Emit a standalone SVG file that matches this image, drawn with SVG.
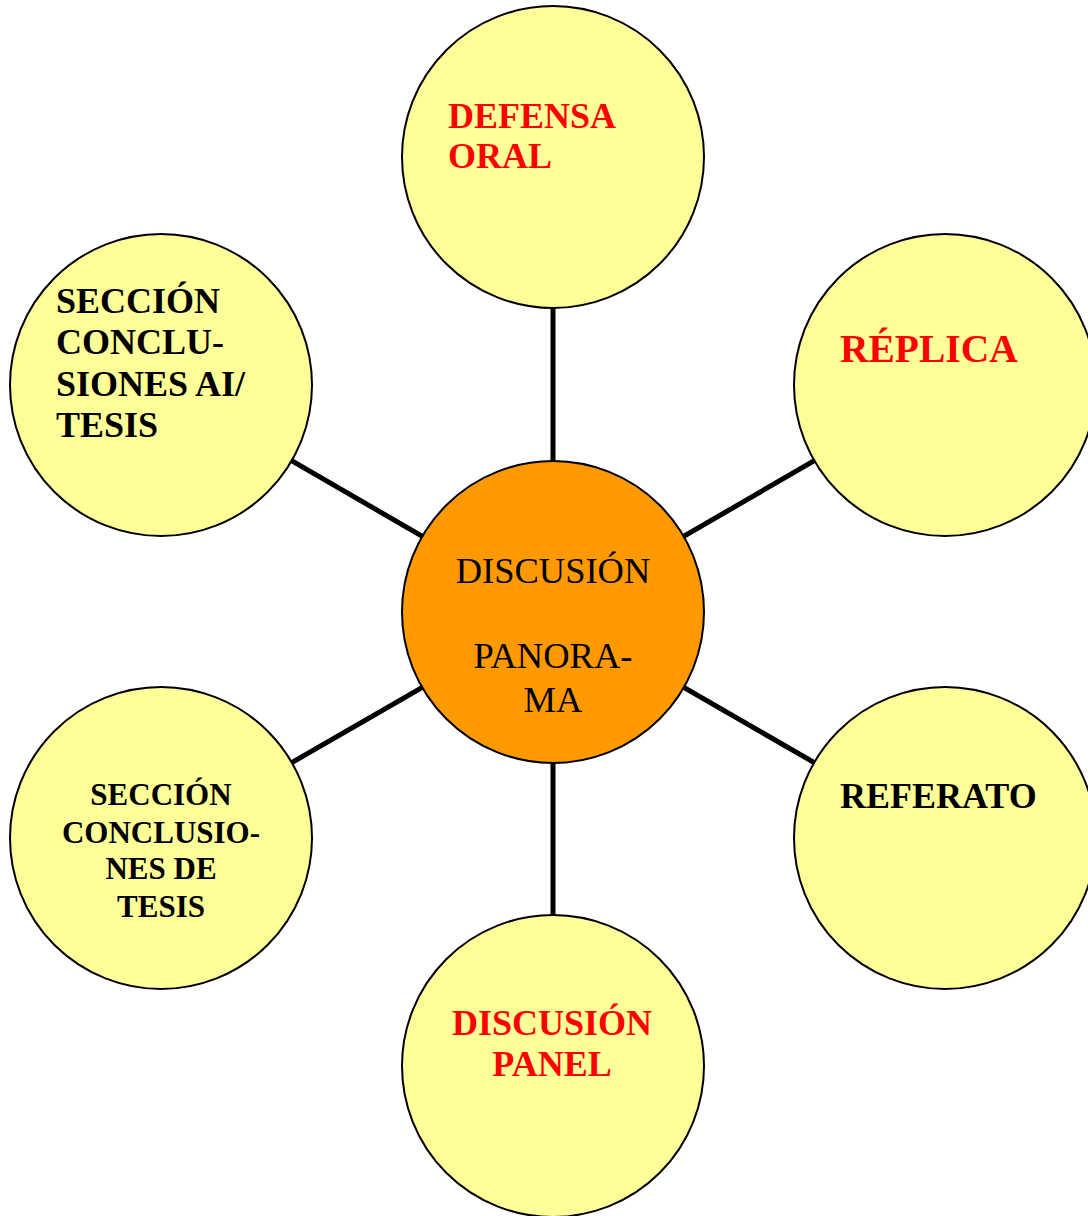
<svg xmlns="http://www.w3.org/2000/svg" width="1088" height="1216" viewBox="0 0 1088 1216">
<style>
.c{fill:#FFFF99;stroke:#000;stroke-width:2}
.m{fill:#FF9900;stroke:#000;stroke-width:2}
.l{stroke:#000;stroke-width:5;fill:none}
.t{font-family:"Liberation Serif","Times New Roman",serif;font-weight:bold;font-size:36px}
.red{fill:#FF0000}
.blk{fill:#000}
</style>
<rect width="1088" height="1216" fill="#fff"/>
<g id="connectors">
<line class="l" x1="553" y1="612" x2="553" y2="157"/>
<line class="l" x1="553" y1="612" x2="945" y2="385"/>
<line class="l" x1="553" y1="612" x2="945" y2="838"/>
<line class="l" x1="553" y1="612" x2="553" y2="1066"/>
<line class="l" x1="553" y1="612" x2="161" y2="838"/>
<line class="l" x1="553" y1="612" x2="161" y2="385"/>
</g>
<g id="defensa-oral">
<circle class="c" cx="553" cy="157" r="151"/>
<text class="t red" x="448" y="128">DEFENSA</text>
<text class="t red" x="448" y="168">ORAL</text>
</g>
<g id="replica">
<circle class="c" cx="945" cy="385" r="151"/>
<text class="t red" x="840" y="362" style="font-size:39.5px">RÉPLICA</text>
</g>
<g id="referato">
<circle class="c" cx="945" cy="838" r="151"/>
<text class="t blk" x="840" y="808">REFERATO</text>
</g>
<g id="discusion-panel">
<circle class="c" cx="553" cy="1066" r="151"/>
<text class="t red" x="552" y="1035" text-anchor="middle">DISCUSIÓN</text>
<text class="t red" x="552" y="1076" text-anchor="middle">PANEL</text>
</g>
<g id="seccion-conclusiones-tesis">
<circle class="c" cx="161" cy="838" r="151"/>
<g class="t blk" style="font-size:31px" text-anchor="middle">
<text x="161" y="805">SECCIÓN</text>
<text x="161" y="843">CONCLUSIO-</text>
<text x="161" y="879">NES DE</text>
<text x="161" y="917">TESIS</text>
</g>
</g>
<g id="seccion-conclusiones-ai">
<circle class="c" cx="161" cy="385" r="151"/>
<text class="t blk" x="56" y="313">SECCIÓN</text>
<text class="t blk" x="56" y="354">CONCLU-</text>
<text class="t blk" x="56" y="396">SIONES AI/</text>
<text class="t blk" x="56" y="437">TESIS</text>
</g>
<g id="discusion-panorama">
<circle class="m" cx="553" cy="612" r="151"/>
<g font-family="Liberation Serif, Times New Roman, serif" font-size="36.5" fill="#000" text-anchor="middle">
<text x="553" y="583">DISCUSIÓN</text>
<text x="553" y="668">PANORA-</text>
<text x="553" y="712">MA</text>
</g>
</g>
</svg>
